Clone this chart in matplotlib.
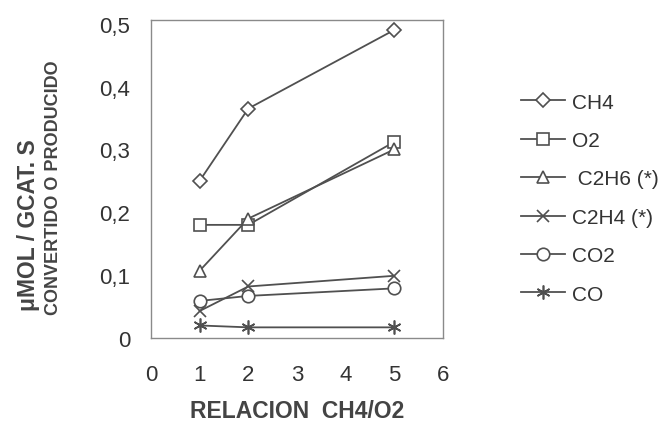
import matplotlib
matplotlib.use("Agg")
import matplotlib.pyplot as plt
from matplotlib.ticker import FuncFormatter

plt.rcParams['font.family'] = ['Liberation Sans', 'DejaVu Sans']

# datos
relacion = [1, 2, 5]
ch4 = [0.25, 0.365, 0.49]
o2 = [0.18, 0.18, 0.312]
c2h6 = [0.107, 0.19, 0.30]
c2h4 = [0.043, 0.082, 0.099]
co2 = [0.059, 0.067, 0.079]
co = [0.020, 0.017, 0.017]

series = [
    ("CH4", ch4, "D", 7),
    ("O2", o2, "s", 9),
    (" C2H6 (*)", c2h6, "^", 9),
    ("C2H4 (*)", c2h4, "x", 9),
    ("CO2", co2, "o", 9),
    ("CO", co, (6, 2, 0), 10),
]

gris = "#505050"

fig = plt.figure(figsize=(6.68, 4.27), dpi=100)
ax = fig.add_axes([0.226, 0.206, 0.437, 0.745])

for nombre, vals, mk, ms in series:
    ax.plot(relacion, vals, color=gris, lw=1.3, marker=mk, markersize=ms,
            markerfacecolor="white", markeredgecolor=gris, markeredgewidth=1.2,
            label=nombre)

ax.set_xlim(0, 6)
ax.set_ylim(0, 0.506)
ax.set_xticks(range(7))
ax.set_yticks([0, 0.1, 0.2, 0.3, 0.4, 0.5])
ax.yaxis.set_major_formatter(FuncFormatter(lambda v, p: "0" if v == 0 else ("%.1f" % v).replace(".", ",")))
ax.tick_params(length=0, labelsize=16, colors="#333333")
ax.tick_params(axis="x", pad=19)
ax.tick_params(axis="y", pad=15)

for s in ax.spines.values():
    s.set_linestyle((0, (1, 1)))
    s.set_color("#8a8a8a")
    s.set_linewidth(1.0)

fig.text(0.5 * (0.226 + 0.663), 0.037, "RELACION  CH4/O2", ha="center", va="center",
         fontsize=16.5, fontweight="bold", color="#444444")
fig.text(0.042, 0.473, "μMOL / GCAT. S", rotation=90, ha="center", va="center",
         fontsize=16.5, fontweight="bold", color="#444444")
fig.text(0.08, 0.56, "CONVERTIDO O PRODUCIDO", rotation=90, ha="center", va="center",
         fontsize=13, fontweight="bold", color="#444444")

leg = ax.legend(loc="upper left", bbox_to_anchor=(0.768, 0.80), bbox_transform=fig.transFigure,
                frameon=False, fontsize=15, handlelength=2.1, handletextpad=0.35,
                labelspacing=0.93, borderaxespad=0)
for t in leg.get_texts():
    t.set_color("#333333")

fig.savefig("out.png", dpi=100)
